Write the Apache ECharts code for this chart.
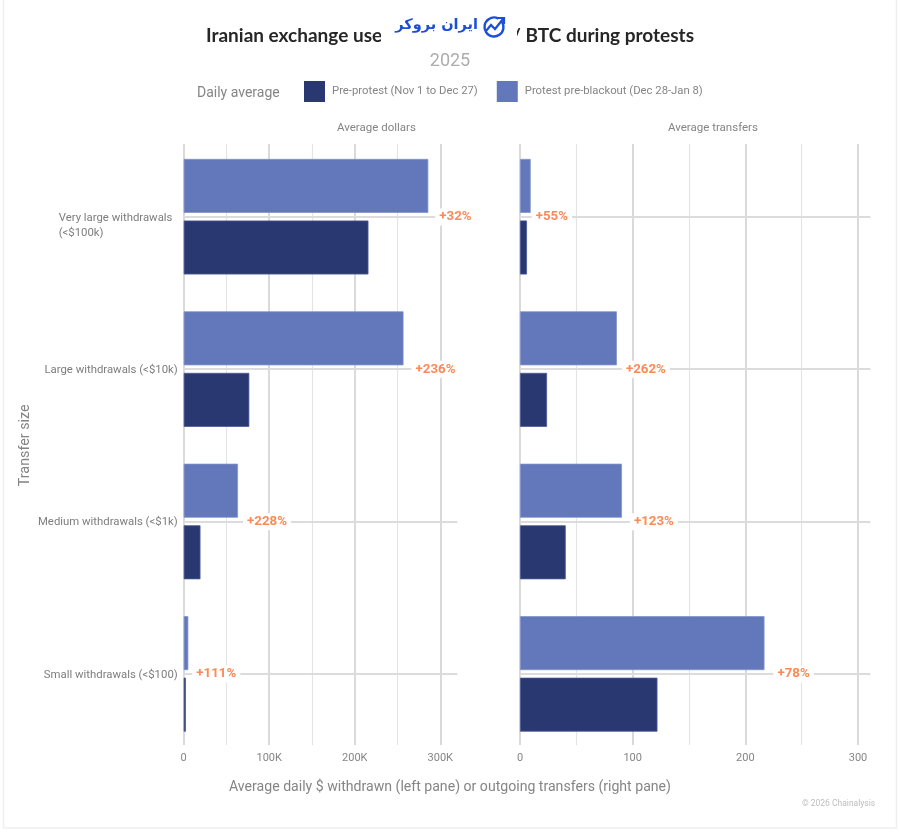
<!DOCTYPE html>
<html><head><meta charset="utf-8">
<style>html,body{margin:0;padding:0;background:#fff}#c{width:900px;height:832px}</style>
<script src="https://cdn.jsdelivr.net/npm/echarts@6/dist/echarts.min.js"></script>
</head><body><div id="c"></div>
<script>
const categories = ['Very large withdrawals\n(<$100k)', 'Large withdrawals (<$10k)', 'Medium withdrawals (<$1k)', 'Small withdrawals (<$100)'];
const dollarsPre = [216000, 76700, 19600, 2600];
const dollarsProtest = [286000, 257000, 63500, 5400];
const dollarsChange = ['+32%', '+236%', '+228%', '+111%'];
const transfersPre = [6.2, 24, 40.6, 122];
const transfersProtest = [9.5, 86, 90.5, 217];
const transfersChange = ['+55%', '+262%', '+123%', '+78%'];
const preName = 'Pre-protest (Nov 1 to Dec 27)';
const protestName = 'Protest pre-blackout (Dec 28-Jan 8)';

const dollarGaps = [7, 8, 5, 4];
const transferGaps = [1, 5, 8, 9];
const FONT = 'Roboto, sans-serif';
const DARK = '#2a3872', LIGHT = '#6278ba';

const lineGrid = (left, width) => ({left, width, top: 144, height: 601});
const barGrid = (left, width) => ({left, width, top: 140.5, height: 609.6});
const grids = [lineGrid(183.7, 256.6), lineGrid(520, 338), barGrid(183.7, 273.7), barGrid(520, 350.4)];

const visibleX = (gridIndex, max, interval, formatter) => ({
  type: 'value', gridIndex, min: 0, max, interval, position: 'bottom',
  axisLine: {show: false}, axisTick: {show: false},
  axisLabel: {color: '#858585', fontFamily: FONT, fontSize: 11, margin: 8, formatter},
  splitLine: {show: true, lineStyle: {color: '#dadada', width: 2}},
  minorTick: {show: false, splitNumber: 2},
  minorSplitLine: {show: true, lineStyle: {color: '#e4e4e4', width: 1.2}}
});
const hiddenX = (gridIndex, max) => ({type: 'value', gridIndex, min: 0, max, show: false, splitLine: {show: false}});
const hiddenY = gridIndex => ({type: 'value', gridIndex, min: 0, max: 1, show: false, splitLine: {show: false}});

const catY = (gridIndex, withLabels) => ({
  type: 'category', gridIndex, inverse: true, data: categories,
  axisLine: {show: false}, axisTick: {show: false}, splitLine: {show: false},
  name: withLabels ? 'Transfer size' : '', nameLocation: 'middle', nameGap: 151, nameRotate: 90,
  nameTextStyle: {color: '#858585', fontFamily: FONT, fontSize: 14.3},
  axisLabel: {
    show: withLabels, color: '#7d7d7d', fontFamily: FONT, fontSize: 11.35, margin: 6, lineHeight: 15, padding: [2, 0, 0, 0],
    formatter: v => v.includes('\n') ? '{w|\n' + v + '}' : v,
    rich: {w: {width: 119, align: 'left', color: '#7d7d7d', fontFamily: FONT, fontSize: 11.35, lineHeight: 15}}
  }
});

const barSeries = (name, color, edge, values, axisIndex, extra) => Object.assign({
  name, type: 'bar', xAxisIndex: axisIndex, yAxisIndex: axisIndex, data: values,
  barWidth: 54, barGap: '14%',
  itemStyle: {color, borderColor: edge, borderWidth: 0.8}
}, extra);

const refLineSeries = (axisIndex, end) => ({
  type: 'line', xAxisIndex: axisIndex, yAxisIndex: axisIndex, data: [], z: 1,
  markLine: {
    silent: true, symbol: 'none', z: 1, animation: false,
    label: {show: false},
    lineStyle: {color: '#dcdcdc', width: 2, type: 'solid'},
    data: categories.map(c => [{xAxis: 0, yAxis: c}, {xAxis: end, yAxis: c}])
  }
});
const changeItems = (values, labels, gaps) => values.map((value, i) => ({
  value,
  label: {
    show: true, position: 'right', distance: gaps[i], offset: [0, 31],
    formatter: labels[i], color: '#fb8a58', fontFamily: FONT, fontWeight: 'bold', fontSize: 13.3,
    backgroundColor: '#fff', padding: [2, 4, 2, 4]
  }
}));

const titleText = (text, pos, top, fontSize, color, extra) => Object.assign({
  text, top, textStyle: Object.assign({fontSize, color, fontFamily: FONT, fontWeight: 'normal'}, extra)
}, typeof pos === 'object' ? pos : {left: pos});

const heading = {fontFamily: 'Lato, sans-serif', fontWeight: 'bold'};
const option = {
  animation: false,
  backgroundColor: '#fff',
  title: [
    titleText('Iranian exchange use', 201, 21.5, 19, '#262626', heading),
    titleText('/ BTC during protests', {right: 201}, 21.5, 19, '#262626', heading),
    titleText('2025', 'center', 47, 18, '#adadad'),
    titleText('Daily average', 192, 81, 14, '#858585'),
    titleText('Average dollars', 332, 117, 11.5, '#858585'),
    titleText('Average transfers', 663, 117, 11.5, '#858585'),
    titleText('Average daily $ withdrawn (left pane) or outgoing transfers (right pane)', 'center', 775, 14.1, '#858585'),
    titleText('© 2026 Chainalysis', 797, 794, 8.5, '#bdbdbd')
  ],
  legend: {
    left: 304, top: 81, itemWidth: 21, itemHeight: 21, itemGap: 19, padding: 0,
    data: [preName, protestName], icon: 'rect',
    itemStyle: {borderWidth: 0},
    textStyle: {color: '#858585', fontFamily: FONT, fontSize: 11.3, padding: [0, 0, 0, 2]}, selectedMode: false
  },
  grid: grids,
  xAxis: [
    visibleX(0, 300000, 100000, v => v === 0 ? '0' : v / 1000 + 'K'),
    visibleX(1, 300, 100),
    hiddenX(2, 320000), hiddenX(3, 311)
  ],
  yAxis: [hiddenY(0), hiddenY(1), catY(2, true), catY(3, false)],
  series: [
    refLineSeries(2, 320000),
    refLineSeries(3, 311),
    barSeries(protestName, LIGHT, '#8193cc', changeItems(dollarsProtest, dollarsChange, dollarGaps), 2, {z: 3}),
    barSeries(preName, DARK, '#4a5a96', dollarsPre, 2, {z: 2}),
    barSeries(protestName, LIGHT, '#8193cc', changeItems(transfersProtest, transfersChange, transferGaps), 3, {z: 3}),
    barSeries(preName, DARK, '#4a5a96', transfersPre, 3, {z: 2})
  ],
  graphic: [
    {type: 'rect', z: 50, shape: {x: 3.5, y: -2, width: 893, height: 830}, style: {fill: 'none', stroke: '#efefef', lineWidth: 1.5}},
    {type: 'rect', z: 60, shape: {x: 381, y: 6, width: 136, height: 42}, style: {fill: '#fff'}},
    {type: 'text', z: 61, x: 478, y: 25.5, style: {text: 'ایران بروکر', fill: '#1b4fd8', font: 'bold 14.5px "DejaVu Sans"', align: 'right', verticalAlign: 'middle'}},
    {type: 'arc', z: 61, shape: {cx: 494, cy: 27, r: 9.5, startAngle: -0.6, endAngle: 5.2}, style: {fill: 'none', stroke: '#1b4fd8', lineWidth: 2.4}},
    {type: 'polyline', z: 62, shape: {points: [[486, 31], [491, 25], [495, 29], [503, 19]]}, style: {fill: 'none', stroke: '#1b4fd8', lineWidth: 2.2}},
    {type: 'polyline', z: 62, shape: {points: [[498, 18], [504, 18], [504, 24]]}, style: {fill: 'none', stroke: '#1b4fd8', lineWidth: 2.2}}
  ]
};
const chart = echarts.init(document.getElementById('c'), null, {renderer: 'canvas'});
chart.setOption(option);
</script></body></html>
